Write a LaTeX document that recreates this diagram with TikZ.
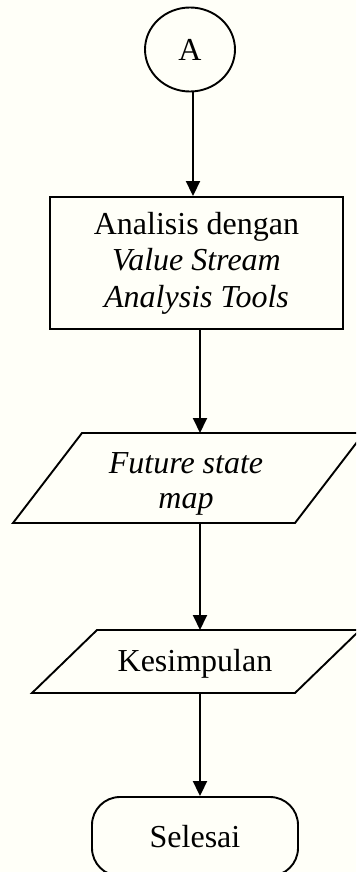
\documentclass[tikz,border=0pt]{standalone}
\usepackage{fontspec}
\setmainfont{Liberation Serif}
\usetikzlibrary{arrows.meta,shapes.geometric}
\definecolor{paper}{RGB}{255,255,248}
\tikzset{
  outline/.style={draw=black, line width=1.9pt},
  flowline/.style={line width=1.9pt, -{Triangle[length=15pt,width=14pt]}},
  txt/.style={font=\fontsize{32}{36.5}\selectfont, align=center, inner sep=0pt},
}
\begin{document}
\begin{tikzpicture}[x=1pt,y=-1pt]
  \useasboundingbox (0,0) rectangle (356,872);
  \fill[paper] (0,0) rectangle (356,872);
  \clip (0,0) rectangle (356,872);

  % off-page connector
  \node[ellipse, outline, txt, minimum width=90pt, minimum height=84pt] (A) at (190,49.5) {A};

  % process box
  \node[rectangle, outline, txt, minimum width=293pt, minimum height=132pt] (analisis) at (196.5,263)
    {Analisis dengan\\\textit{Value Stream}\\\textit{Analysis Tools}};

  % first data block
  \coordinate (fsm-nw) at (82,433);
  \coordinate (fsm-ne) at (364,433);
  \coordinate (fsm-se) at (295,523);
  \coordinate (fsm-sw) at (13,523);
  \draw[outline] (fsm-nw) -- (fsm-ne) -- (fsm-se) -- (fsm-sw) -- cycle;
  \node[txt, font=\fontsize{32}{35}\selectfont\itshape] (fsm) at (186,483.5) {Future state\\map};
  \coordinate (fsm-in) at (200,433);
  \coordinate (fsm-out) at (200,523);

  % second data block
  \coordinate (kes-nw) at (97,630);
  \coordinate (kes-ne) at (360,630);
  \coordinate (kes-se) at (295,693);
  \coordinate (kes-sw) at (32,693);
  \draw[outline] (kes-nw) -- (kes-ne) -- (kes-se) -- (kes-sw) -- cycle;
  \node[txt] (kes) at (195,664) {Kesimpulan};
  \coordinate (kes-in) at (200,630);
  \coordinate (kes-out) at (200,693);

  % terminator
  \node[rectangle, rounded corners=28pt, outline, txt, minimum width=206pt, minimum height=79pt] (selesai) at (195,836.5) {Selesai};

  % connectors
  \coordinate (c1) at (193,0);
  \draw[flowline] (A.south -| c1) -- (analisis.north -| c1);
  \draw[flowline] (analisis.south -| fsm-in) -- (fsm-in);
  \draw[flowline] (fsm-out) -- (kes-in);
  \draw[flowline] (kes-out) -- (selesai.north -| kes-out);
\end{tikzpicture}
\end{document}
